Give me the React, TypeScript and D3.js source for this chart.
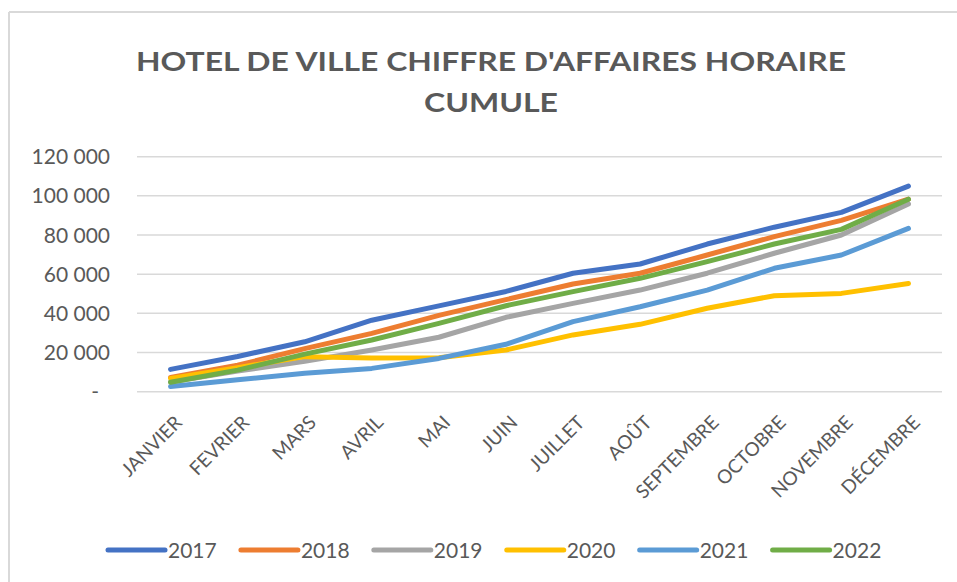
import React from "react";
import * as d3 from "d3";

const months = ["JANVIER","FEVRIER","MARS","AVRIL","MAI","JUIN","JUILLET","AOÛT","SEPTEMBRE","OCTOBRE","NOVEMBRE","DÉCEMBRE"];
const years = ["2017","2018","2019","2020","2021","2022"];
const colors = ["#4472C4","#ED7D31","#A5A5A5","#FFC000","#5B9BD5","#70AD47"];
const v2017 = [11400, 18000, 25500, 36500, 43800, 51200, 60500, 65200, 75400, 84000, 91600, 105000];
const v2018 = [7300, 13500, 22000, 29800, 39000, 47000, 55000, 60500, 69800, 79200, 87500, 98300];
const v2019 = [5000, 10500, 15500, 21300, 27800, 38000, 45100, 51900, 60500, 70700, 80000, 95900];
const v2020 = [6800, 12300, 17900, 17200, 17300, 21300, 29000, 34400, 42600, 49000, 50200, 55300];
const v2021 = [2600, 6100, 9400, 11900, 17000, 24200, 35800, 43400, 51900, 63000, 69800, 83400];
const v2022 = [4800, 11000, 19200, 26400, 34900, 43900, 51100, 57900, 66400, 75400, 82900, 98300];
const seriesValues = [v2017, v2018, v2019, v2020, v2021, v2022];
const yTicks = [0, 20000, 40000, 60000, 80000, 100000, 120000];
const titleLines = ["HOTEL DE VILLE CHIFFRE D'AFFAIRES HORAIRE", "CUMULE"];

const W = 957, H = 582;
const font = "Lato, 'Open Sans', sans-serif";
const textColor = "#595959";

export default function App() {
  const x = d3.scaleBand<string>().domain(months).range([137, 942]);
  const y = d3.scaleLinear().domain([0, 120000]).range([391.7, 156.7]);
  const line = d3.line<number>()
    .x((_, i) => (x(months[i]) as number) + x.bandwidth() / 2)
    .y((d) => y(d));
  const fmt = (v: number) => v === 0 ? "-" : d3.format(",")(v).replace(/,/g, " ");
  const legendX = d3.scalePoint<string>().domain(years).range([108, 772.6]);

  return (
    <svg width={W} height={H} style={{ position: "absolute", left: 0, top: 0, background: "#fff" }}>
      <rect x={0} y={0} width={W} height={H} fill="#fff" />
      <line x1={9} x2={W} y1={12} y2={12} stroke="#d9d9d9" strokeWidth={2} />
      <line x1={9} x2={9} y1={12} y2={H} stroke="#d9d9d9" strokeWidth={2} />
      <text x={491} y={71} textAnchor="middle" fontFamily={font} fontWeight="bold" fontSize={27} fill={textColor}
        textLength={710} lengthAdjust="spacingAndGlyphs">{titleLines[0]}</text>
      <text x={491} y={112} textAnchor="middle" fontFamily={font} fontWeight="bold" fontSize={27} fill={textColor}
        textLength={134} lengthAdjust="spacingAndGlyphs">{titleLines[1]}</text>
      {yTicks.map((t) => (
        <g key={t}>
          <line x1={137} x2={942} y1={y(t)} y2={y(t)} stroke="#d9d9d9" strokeWidth={1.5} />
          <text x={t === 0 ? 99 : 110} y={y(t)} dy="0.36em" textAnchor="end" fontFamily={font} fontSize={21} fill={textColor}>{fmt(t)}</text>
        </g>
      ))}
      {months.map((m) => {
        const cx = (x(m) as number) + x.bandwidth() / 2;
        return (
          <text key={m} transform={`translate(${cx + 8},${419}) rotate(-45)`} textAnchor="end" dy="0.35em"
            fontFamily={font} fontSize={19} fill={textColor}>{m}</text>
        );
      })}
      {seriesValues.map((vals, i) => (
        <path key={years[i]} d={line(vals) as string} fill="none" stroke={colors[i]} strokeWidth={5}
          strokeLinejoin="round" strokeLinecap="round" />
      ))}
      {years.map((yr, i) => {
        const lx = legendX(yr) as number;
        return (
          <g key={yr}>
            <line x1={lx} x2={lx + 57} y1={550} y2={550} stroke={colors[i]} strokeWidth={5} strokeLinecap="round" />
            <text x={lx + 60} y={550} dy="0.36em" fontFamily={font} fontSize={21} fill={textColor}>{yr}</text>
          </g>
        );
      })}
    </svg>
  );
}
